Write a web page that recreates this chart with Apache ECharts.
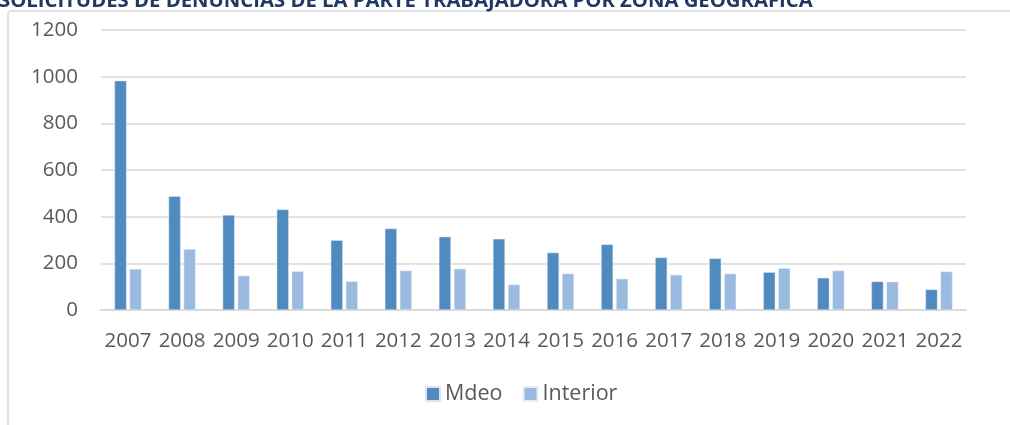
<!DOCTYPE html>
<html>
<head>
<meta charset="utf-8">
<script src="https://cdn.jsdelivr.net/npm/echarts@6/dist/echarts.min.js"></script>
<style>
  html, body { margin: 0; padding: 0; background: #fff; }
  #chart { width: 1010px; height: 425px; }
</style>
</head>
<body>
<div id="chart"></div>
<script>
// años
const years = ["2007", "2008", "2009", "2010", "2011", "2012", "2013", "2014",
  "2015", "2016", "2017", "2018", "2019", "2020", "2021", "2022"];
// solicitudes Montevideo
const mdeo = [983, 487, 407, 431, 299, 349, 314, 305, 246, 281, 225, 221, 162, 138, 122, 88];
// solicitudes Interior
const interior = [176, 261, 147, 166, 123, 169, 177, 109, 156, 134, 151, 156, 179, 169, 121, 165];

const chart = echarts.init(document.getElementById("chart"), null, { renderer: "canvas" });

const labelFont = { color: "#595959", fontSize: 20.5, fontFamily: "Open Sans" };

const option = {
  animation: false,
  title: {
    text: "SOLICITUDES DE DENUNCIAS DE LA PARTE TRABAJADORA POR ZONA GEOGRÁFICA",
    left: -6,
    top: -14,
    textStyle: { color: "#1f3864", fontSize: 20.3, fontWeight: "bold", fontFamily: "Open Sans" },
  },
  graphic: [
    {
      type: "rect",
      shape: { x: 8, y: 11, width: 1100, height: 500, r: 3 },
      style: { fill: null, stroke: "#d9d9d9", lineWidth: 1.5 },
      silent: true,
      z: -1,
    },
  ],
  grid: { left: 101, right: 44, top: 30, bottom: 115 },
  legend: {
    top: 378,
    left: 420,
    itemWidth: 14,
    itemHeight: 14,
    itemGap: 20,
    icon: "rect",
    textStyle: { color: "#595959", fontSize: 21.5, fontFamily: "Open Sans" },
    data: ["Mdeo", "Interior"],
  },
  xAxis: {
    type: "category",
    data: years,
    axisTick: { show: false },
    axisLine: { lineStyle: { color: "#d9d9d9", width: 2 } },
    axisLabel: Object.assign({ margin: 21, interval: 0 }, labelFont),
  },
  yAxis: {
    type: "value",
    min: 0,
    max: 1200,
    interval: 200,
    axisLine: { show: false },
    axisTick: { show: false },
    splitLine: { lineStyle: { color: "#d9d9d9", width: 1.5 } },
    axisLabel: Object.assign({ margin: 23, formatter: (v) => String(v) }, labelFont),
  },
  series: [
    {
      name: "Mdeo",
      type: "bar",
      data: mdeo,
      barWidth: 12,
      barGap: "25%",
      itemStyle: { color: "#508abe", borderColor: "#dbe6f2", borderWidth: 0.5 },
    },
    {
      name: "Interior",
      type: "bar",
      data: interior,
      barWidth: 12,
      itemStyle: { color: "#9abae0", borderColor: "#e6eef8", borderWidth: 0.5 },
    },
  ],
};

chart.setOption(option);
</script>
</body>
</html>
